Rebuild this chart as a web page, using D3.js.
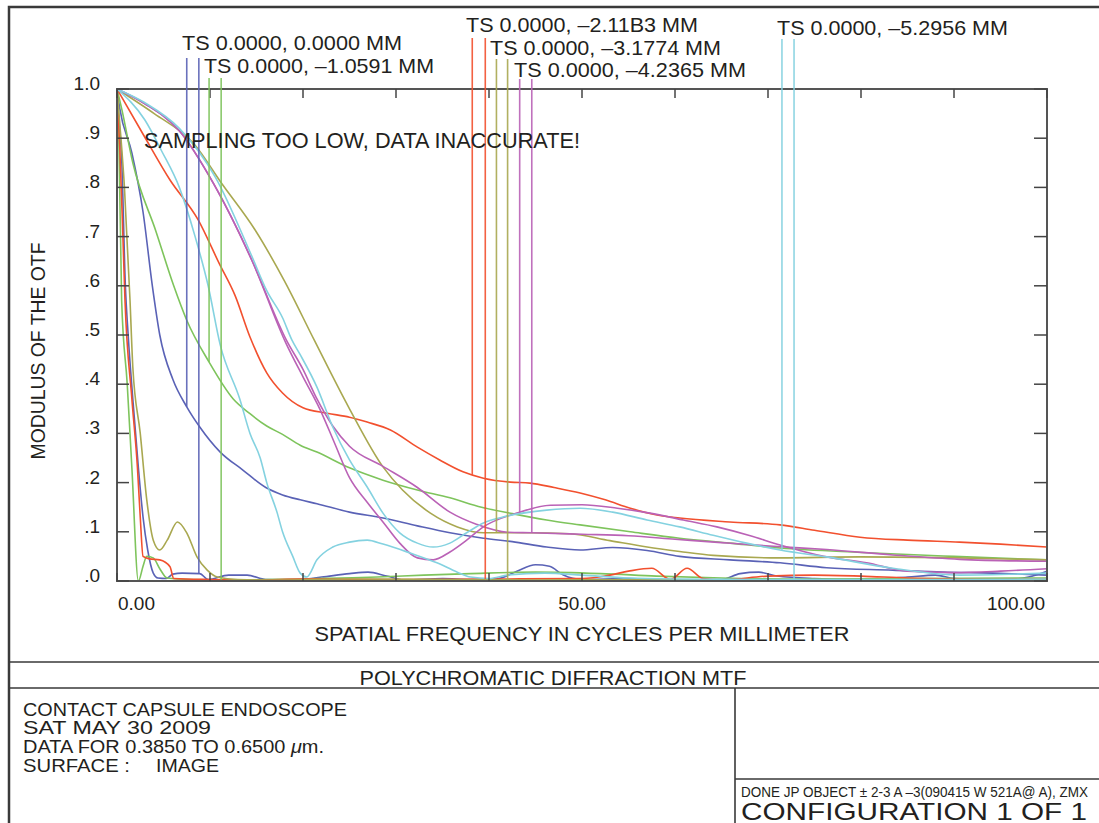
<!DOCTYPE html>
<html><head><meta charset="utf-8">
<script src="https://cdn.jsdelivr.net/npm/d3@7"></script>
<style>
body{margin:0;background:#fff}
svg{display:block}
text{font-family:"Liberation Sans",Arial,sans-serif;fill:#231f20}
</style></head>
<body><svg id="c" width="1099" height="823"></svg>
<script>
// ---------------- DATA ----------------
const xTickValues = [0,10,20,30,40,50,60,70,80,90,100];
const xTickLabels = [[0,"0.00"],[50,"50.00"],[100,"100.00"]];
const yTickValues = [0,0.1,0.2,0.3,0.4,0.5,0.6,0.7,0.8,0.9,1.0];
const yTickLabels = [".0",".1",".2",".3",".4",".5",".6",".7",".8",".9","1.0"];

// field 1 (0.0000 MM) - blue
const blueT = [[0,1],[0.3,0.96],[1.6,0.87],[2.8,0.75],[3.8,0.6],[4.6,0.5],[6,0.41],[7.5,0.354],[8.9,0.313],[11.1,0.262],[13.5,0.226],[16,0.19],[17.8,0.175],[19.7,0.165],[21.5,0.157],[25,0.14],[28.6,0.128],[32.3,0.112],[35.8,0.098],[39.4,0.087],[42.5,0.08],[46.2,0.069],[49.8,0.063],[53.3,0.068],[57,0.062],[60.5,0.05],[65.9,0.043],[71.3,0.037],[76.3,0.027],[83.4,0.022],[88.8,0.018],[94.2,0.016],[100,0.012]];
const blueS = [[0,1],[0.2,0.94],[0.5,0.86],[0.9,0.6],[1.2,0.5],[1.7,0.37],[2.3,0.23],[2.8,0.13],[3.3,0.063],[3.9,0.016],[4.4,0.006],[5.3,0.005],[6,0.014],[7,0.016],[8.9,0.015],[9.8,0.003],[12,0.012],[14,0.012],[16,0.003],[19,0.002],[22,0.008],[25,0.015],[27,0.018],[29,0.01],[31,0.002],[35,0.005],[38,0.003],[41,0.005],[43,0.02],[45,0.033],[46.5,0.03],[48,0.012],[50,0.003],[55,0.005],[60,0.002],[65,0.003],[67,0.015],[69,0.018],[71,0.01],[75,0.005],[80,0.003],[85,0.008],[88,0.012],[90,0.005],[95,0.002],[98,0.008],[100,0.02]];
// field 2 (-1.0591 MM) - green
const greenT = [[0,1],[0.5,0.96],[1.7,0.85],[4.2,0.71],[6.1,0.6],[7.5,0.53],[9.9,0.445],[12.5,0.37],[14.3,0.34],[16.1,0.315],[17.8,0.298],[19.7,0.276],[21.5,0.262],[25,0.23],[28.6,0.205],[32.3,0.185],[35.8,0.169],[39.2,0.15],[42.5,0.137],[46.2,0.124],[49.8,0.114],[55.2,0.1],[60.5,0.087],[65.9,0.077],[71.3,0.067],[80,0.058],[90,0.05],[100,0.043]];
const greenS = [[0,1],[0.2,0.9],[0.5,0.57],[1.1,0.4],[1.6,0.23],[2.3,0],[2.8,0.03],[3.2,0.05],[3.9,0.047],[4.6,0.025],[5.4,0.006],[8,0.003],[12,0.002],[16,0.003],[20,0.004],[24,0.006],[28,0.008],[33,0.012],[38,0.015],[45,0.018],[52,0.015],[58,0.01],[65,0.006],[75,0.004],[85,0.005],[100,0.006]];
// field 3 (-2.11B3 MM) - red
const redT = [[0,1],[2.9,0.905],[5.7,0.815],[8.7,0.735],[11,0.645],[12.7,0.58],[14.3,0.496],[16.1,0.423],[17.8,0.382],[20,0.352],[22.6,0.341],[25,0.333],[26.9,0.323],[29.4,0.307],[32.3,0.272],[34.7,0.246],[37.2,0.222],[39.4,0.209],[42.3,0.201],[44.4,0.199],[47,0.19],[49.8,0.179],[52.5,0.165],[55.2,0.148],[57.8,0.135],[60.5,0.128],[65.9,0.12],[71.3,0.114],[75,0.103],[79.9,0.089],[85,0.083],[90.6,0.079],[95,0.075],[100,0.069]];
const redS = [[0,1],[0.3,0.88],[0.6,0.72],[0.86,0.57],[1.6,0.37],[2.2,0.23],[2.5,0.13],[2.8,0.05],[3.5,0.045],[4.6,0.043],[5.7,0.029],[6.1,0.005],[10,0.003],[15,0.002],[20,0.004],[30,0.003],[40,0.004],[50,0.005],[53,0.012],[55,0.02],[57.5,0.026],[59.5,0.003],[61.3,0.026],[63,0.005],[65,0.002],[70,0.01],[75,0.012],[80,0.01],[85,0.006],[90,0.004],[95,0.003],[100,0.004]];
// field 4 (-3.1774 MM) - olive
const oliveT = [[0,1],[4,0.95],[8.2,0.89],[11.3,0.807],[14.8,0.715],[18,0.61],[21.2,0.49],[25,0.35],[28.6,0.232],[30.7,0.185],[33.7,0.138],[36.6,0.11],[39.4,0.098],[44,0.098],[48.7,0.096],[53,0.082],[57,0.069],[60.5,0.06],[64.1,0.052],[71.3,0.047],[79.9,0.049],[90.6,0.047],[100,0.043]];
const oliveS = [[0,1],[0.3,0.93],[0.8,0.8],[1.4,0.57],[1.7,0.435],[2.5,0.3],[3.2,0.165],[3.9,0.083],[4.6,0.063],[5.4,0.083],[6.5,0.12],[7.5,0.098],[8.6,0.049],[9.7,0.022],[10.8,0.008],[13,0.003],[18,0.002],[25,0.004],[35,0.003],[45,0.002],[55,0.003],[65,0.002],[75,0.002],[85,0.003],[100,0.003]];
// field 5 (-4.2365 MM) - magenta
const magentaT = [[0,1],[3,0.97],[6.7,0.915],[10.4,0.807],[14.5,0.652],[18.2,0.482],[20,0.415],[21.8,0.35],[23.4,0.28],[25,0.21],[26.9,0.16],[28.6,0.12],[30.4,0.077],[32.3,0.047],[34,0.043],[35.8,0.059],[37.6,0.083],[39.4,0.11],[43,0.138],[46.6,0.154],[50,0.155],[53.8,0.148],[57.3,0.138],[60.9,0.124],[64.5,0.11],[68.1,0.092],[71.3,0.073],[76,0.05],[80.6,0.037],[85,0.02],[90,0.017],[95,0.02],[100,0.025]];
const magentaS = [[0,1],[3,0.97],[6.7,0.915],[10.4,0.807],[14.5,0.652],[18.2,0.49],[20,0.43],[21.5,0.37],[23.2,0.315],[25,0.274],[28.6,0.233],[32.3,0.19],[35.8,0.14],[38.7,0.115],[42,0.099],[44.6,0.098],[50,0.095],[55,0.092],[60,0.085],[65,0.078],[71,0.07],[76.3,0.064],[83.4,0.053],[90.6,0.044],[100,0.04]];
// field 6 (-5.2956 MM) - cyan
const cyanT = [[0,1],[3,0.972],[6.7,0.92],[10.6,0.82],[14.5,0.66],[16.1,0.59],[17.8,0.535],[18.8,0.49],[19.7,0.46],[21.5,0.394],[23.2,0.313],[25,0.246],[26.9,0.191],[28.6,0.138],[30.4,0.098],[32.3,0.077],[34,0.069],[35.8,0.077],[37.6,0.098],[39.4,0.118],[41.5,0.13],[46.2,0.144],[49.8,0.148],[53.3,0.14],[57,0.124],[60.5,0.11],[64.1,0.093],[67.7,0.077],[71.3,0.063],[76.3,0.049],[83.4,0.026],[90.6,0.012],[100,0.016]];
const cyanS = [[0,1],[3,0.937],[4.8,0.874],[6.7,0.8],[8.4,0.7],[9.8,0.6],[11.1,0.48],[13.2,0.37],[14.3,0.3],[15.4,0.25],[16.1,0.2],[17.2,0.14],[17.8,0.1],[18.9,0.05],[19.7,0.016],[20.4,0.008],[21.5,0.043],[23.2,0.069],[25,0.079],[26.9,0.083],[28.6,0.075],[31.5,0.057],[34.4,0.037],[36.6,0.018],[38,0.008],[40,0.005],[42,0.012],[46,0.016],[50,0.012],[55,0.006],[60,0.004],[70,0.003],[80,0.003],[90,0.003],[100,0.004]];

const fieldColors = ["#5a62b6","#7ec45c","#f2502e","#a9a850","#ba62b6","#84d2e0"];
const seriesT = [blueT, greenT, redT, oliveT, magentaT, cyanT];
const seriesS = [blueS, greenS, redS, oliveS, magentaS, cyanS];

const legendLabels = ["TS 0.0000, 0.0000 MM","TS 0.0000, \u20131.0591 MM","TS 0.0000, \u20132.11B3 MM","TS 0.0000, \u20133.1774 MM","TS 0.0000, \u20134.2365 MM","TS 0.0000, \u20135.2956 MM"];
const legendFreqT = [7.5, 9.9, 38.2, 40.8, 43.3, 71.5];
const legendFreqS = [8.8, 11.2, 39.6, 42.0, 44.6, 72.8];

// ---------------- LAYOUT ----------------
const legendPos = [
  {x:182,y:50,w:220,top:58},
  {x:204,y:73,w:230,top:78},
  {x:466,y:32,w:232,top:38},
  {x:490,y:55,w:231,top:59},
  {x:514,y:77,w:232,top:79},
  {x:777,y:35,w:231,top:39}
];

const svg = d3.select("#c");
const x = d3.scaleLinear().domain([0,100]).range([117,1047]);
const y = d3.scaleLinear().domain([0,1]).range([581,89]);

function txt(s, tx, ty, size, opts={}) {
  const t = svg.append("text").attr("x",tx).attr("y",ty).attr("font-size",size).text(s);
  if (opts.anchor) t.attr("text-anchor",opts.anchor);
  if (opts.w) t.attr("textLength",opts.w).attr("lengthAdjust",opts.adj||"spacingAndGlyphs");
  if (opts.transform) t.attr("transform",opts.transform);
  return t;
}

// outer frame & title block
const frame = svg.append("g").attr("fill","none").attr("stroke","#3a3a3a");
frame.append("path").attr("d","M9,823V7H1099").attr("stroke-width",2.5);
frame.append("path").attr("d","M9,662H1099M9,688H1099M735,688V823M735,779H1099").attr("stroke-width",1.6);

// curves
const line = d3.line().x(d=>x(d[0])).y(d=>y(d[1])).curve(d3.curveMonotoneX);
const curves = svg.append("g").attr("fill","none").attr("stroke-width",1.6).attr("stroke-linejoin","round");
for (let i=0;i<6;i++){
  curves.append("path").datum(seriesT[i]).attr("d",line).attr("stroke",fieldColors[i]);
  curves.append("path").datum(seriesS[i]).attr("d",line).attr("stroke",fieldColors[i]);
}

// interpolation for legend drop lines
function valueAt(series,f){
  const i = d3.bisector(d=>d[0]).right(series,f);
  if(i<=0) return series[0][1];
  if(i>=series.length) return series[series.length-1][1];
  const a=series[i-1], b=series[i];
  return a[1]+(b[1]-a[1])*(f-a[0])/(b[0]-a[0]);
}

// axes frame
const ax = svg.append("g").attr("stroke","#555").attr("fill","none");
ax.append("rect").attr("x",x(0)).attr("y",y(1)).attr("width",x(100)-x(0)).attr("height",y(0)-y(1)).attr("stroke-width",2);
const tk = svg.append("g").attr("stroke","#444").attr("stroke-width",1.5);
yTickValues.forEach(v=>{
  tk.append("line").attr("x1",x(0)).attr("x2",x(0)+12).attr("y1",y(v)).attr("y2",y(v));
  tk.append("line").attr("x1",x(100)).attr("x2",x(100)-13).attr("y1",y(v)).attr("y2",y(v));
});
xTickValues.forEach(f=>{
  tk.append("line").attr("x1",x(f)).attr("x2",x(f)).attr("y1",y(1)).attr("y2",y(1)+9);
  tk.append("line").attr("x1",x(f)).attr("x2",x(f)).attr("y1",y(0)).attr("y2",y(0)-8);
});

// legend lines
const lg = svg.append("g").attr("stroke-width",1.6);
for (let i=0;i<6;i++){
  const p = legendPos[i];
  [[legendFreqT[i],seriesT[i]],[legendFreqS[i],seriesS[i]]].forEach(([f,s])=>{
    lg.append("line").attr("x1",x(f)).attr("x2",x(f)).attr("y1",p.top).attr("y2",y(valueAt(s,f)))
      .attr("stroke",fieldColors[i]).attr("opacity",0.9);
  });
  txt(legendLabels[i], p.x, p.y, 21, {w:p.w});
}

// y labels
yTickValues.forEach((v,i)=>{
  txt(yTickLabels[i], 100, y(v)+1, 19, {anchor:"end"});
});
// x labels
xTickLabels.forEach(([f,s],i)=>{
  const anchor = i===0?"start":(i===xTickLabels.length-1?"end":"middle");
  const px = i===0?x(f)+1:(i===xTickLabels.length-1?x(f)-2:x(f));
  txt(s, px, 610, 19, {anchor});
});

// axis titles
txt("SPATIAL FREQUENCY IN CYCLES PER MILLIMETER", 582, 641, 19.5, {anchor:"middle", w:535});
txt("MODULUS OF THE OTF", 0, 0, 19.5, {anchor:"middle", w:217, transform:"translate(45,351) rotate(-90)"});

// warning
txt("SAMPLING TOO LOW, DATA INACCURATE!", 144, 148, 21.5, {w:436});

// title block texts
txt("POLYCHROMATIC DIFFRACTION MTF", 553, 685, 20, {anchor:"middle", w:387});
txt("CONTACT CAPSULE ENDOSCOPE", 23, 716, 18, {w:324});
txt("SAT MAY 30 2009", 23, 734, 18, {w:188});
const dt = txt("DATA FOR 0.3850 TO 0.6500 ", 23, 753, 18);
dt.append("tspan").attr("font-style","italic").text("\u03bc");
dt.append("tspan").text("m.");
dt.attr("textLength",301).attr("lengthAdjust","spacingAndGlyphs");
txt("SURFACE :", 23, 772, 18, {w:107});
txt("IMAGE", 156, 772, 18, {w:63});
txt("DONE JP OBJECT \u00b1 2-3 A \u20133(090415 W 521A@ A), ZMX", 741, 797, 15.5, {w:347});
txt("CONFIGURATION 1 OF 1", 741, 820, 24, {w:346});
</script>
</body></html>
